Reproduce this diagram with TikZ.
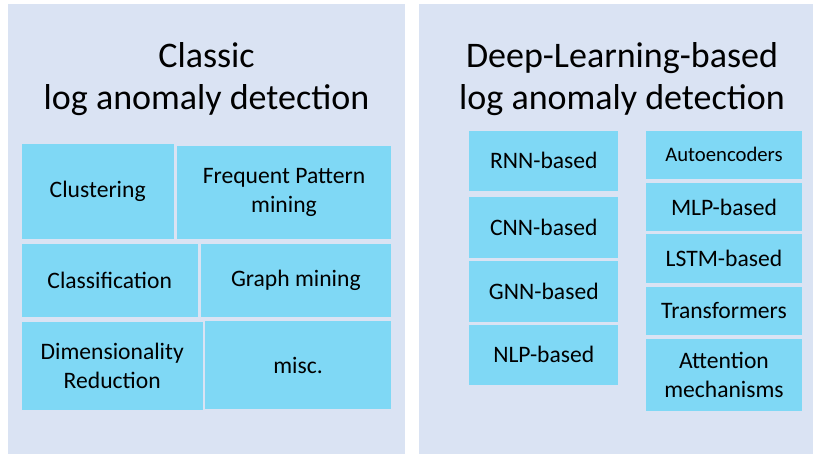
\documentclass[tikz,border=0pt]{standalone}
\usepackage{fontspec}
\setmainfont{Carlito}
\definecolor{panelc}{HTML}{DAE3F3}
\definecolor{boxc}{HTML}{7FD8F5}
\begin{document}
\begin{tikzpicture}[x=1pt,y=-1pt,
  panel/.style={fill=panelc,draw=none},
  titletext/.style={font=\fontsize{36}{42.5}\selectfont,align=center,inner sep=0pt,anchor=base},
  box/.style={fill=boxc,draw=none,inner sep=0pt,align=center,
    font=\fontsize{23.6}{29}\selectfont},
  smallbox/.style={box,font=\fontsize{20.7}{25}\selectfont}]
\useasboundingbox (0,0) rectangle (813,454);
\fill[white] (0,0) rectangle (813,454);
\path[panel] (8,4) rectangle (405,454);
\path[panel] (419,4) rectangle (813,454);
% titles
\node[titletext] (t1a) at (206.5,68) {Classic};
\node[titletext] (t1b) at (206.5,110) {log anomaly detection};
\node[titletext] (t2a) at (622,68) {Deep-Learning-based};
\node[titletext] (t2b) at (622,110) {log anomaly detection};
% classic boxes
\node[box,minimum width=152pt,minimum height=95pt] (clu) at (97.7,191.8) {Clustering};
\node[box,minimum width=213.4pt,minimum height=93.3pt] (fpm) at (284,192.65) {Frequent Pattern\\mining};
\node[box,minimum width=176pt,minimum height=72.7pt] (cla) at (109.7,280.35) {Classification};
\node[box,minimum width=189.7pt,minimum height=72.7pt] (gra) at (295.85,280.35) {Graph mining};
\node[box,minimum width=181pt,minimum height=88pt] (dim) at (112.2,366.3) {Dimensionality\\Reduction};
\node[box,minimum width=185.4pt,minimum height=88.3pt] (misc) at (298,365.15) {misc.};
% deep learning boxes
\node[box,minimum width=149pt,minimum height=60.3pt] (rnn) at (543.8,160.85) {RNN-based};
\node[box,minimum width=149pt,minimum height=60.2pt] (cnn) at (543.8,227.4) {CNN-based};
\node[box,minimum width=149pt,minimum height=60.7pt] (gnn) at (543.8,291.35) {GNN-based};
\node[box,minimum width=149pt,minimum height=60.3pt] (nlp) at (543.8,354.85) {NLP-based};
\node[smallbox,minimum width=156pt,minimum height=48.3pt] (ae) at (724,154.85) {Autoencoders};
\node[box,minimum width=156pt,minimum height=48.5pt] (mlp) at (724,206.95) {MLP-based};
\node[box,minimum width=156pt,minimum height=49pt] (lstm) at (724,258.8) {LSTM-based};
\node[box,minimum width=156pt,minimum height=48.3pt] (trf) at (724,310.85) {Transformers};
\node[box,minimum width=156pt,minimum height=71.8pt] (att) at (724,374.6) {Attention\\mechanisms};
\end{tikzpicture}
\end{document}
